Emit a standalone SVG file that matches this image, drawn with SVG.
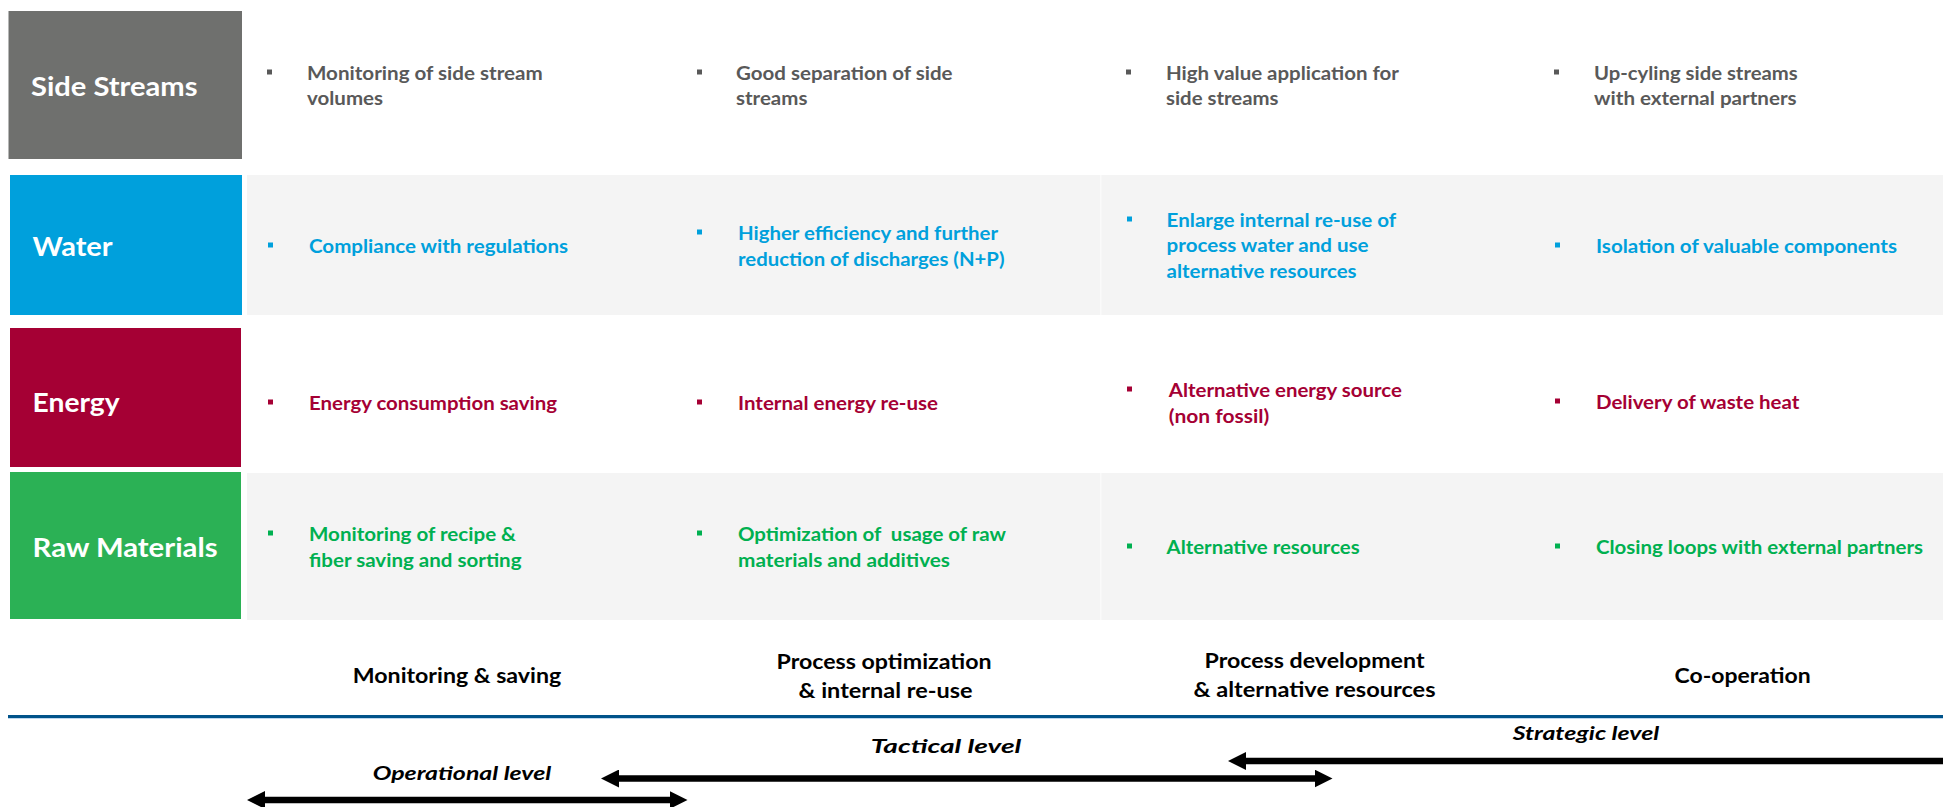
<svg xmlns="http://www.w3.org/2000/svg" width="1943" height="807" viewBox="0 0 1943 807">
<style>
text{font-family:Lato,"Open Sans","Liberation Sans",sans-serif;font-weight:700;white-space:pre}
.lab{font-size:27px;fill:#fff}
.b{font-size:19px}
.g{fill:#595959}.w{fill:#00A0DC}.e{fill:#A50034}.r{fill:#00B050}
.ax{font-size:20.5px;fill:#000;text-anchor:middle}
.it{font-size:19px;font-style:italic;fill:#000;text-anchor:middle}
.bg{fill:#F4F4F4}
.sep{fill:#FAFAFA}
.arr{stroke:#000;stroke-width:6.5;fill:none}
</style>
<defs>
<marker id="ah" viewBox="0 0 18 18" markerWidth="18" markerHeight="18" markerUnits="userSpaceOnUse" refX="6" refY="9" orient="auto-start-reverse"><path d="M0,0L18,9L0,18z" fill="#000"/></marker>
</defs>
<rect width="1943" height="807" fill="#fff"/>
<g id="row-backgrounds">
<rect class="bg" x="247" y="175" width="1696" height="140"/>
<rect class="sep" x="1100" y="175" width="1.5" height="140"/>
<rect class="bg" x="247" y="473" width="1696" height="147"/>
<rect class="sep" x="1100" y="473" width="1.5" height="147"/>
</g>
<g id="side-streams"><rect x="8.5" y="11" width="233.5" height="148" fill="#6F706E"/><text class="lab" x="31" y="96" textLength="166.5" lengthAdjust="spacingAndGlyphs">Side Streams</text></g>
<g id="water"><rect x="10" y="175" width="232" height="140" fill="#00A0DC"/><text class="lab" x="32.6" y="256" textLength="80" lengthAdjust="spacingAndGlyphs">Water</text></g>
<g id="energy"><rect x="10" y="328" width="231" height="139" fill="#A50034"/><text class="lab" x="32.6" y="412" textLength="87" lengthAdjust="spacingAndGlyphs">Energy</text></g>
<g id="raw-materials"><rect x="10" y="472" width="231" height="147" fill="#2BB155"/><text class="lab" x="32.6" y="557" textLength="185" lengthAdjust="spacingAndGlyphs">Raw Materials</text></g>

<g id="ss-1"><rect class="g" x="267" y="69.5" width="5" height="5"/><text class="b g" x="307" y="80" textLength="235.7" lengthAdjust="spacingAndGlyphs">Monitoring of side stream</text><text class="b g" x="307" y="105" textLength="76" lengthAdjust="spacingAndGlyphs">volumes</text></g>
<g id="ss-2"><rect class="g" x="697" y="69.5" width="5" height="5"/><text class="b g" x="736" y="80" textLength="216.5" lengthAdjust="spacingAndGlyphs">Good separation of side</text><text class="b g" x="736" y="105" textLength="71.4" lengthAdjust="spacingAndGlyphs">streams</text></g>
<g id="ss-3"><rect class="g" x="1126" y="69.5" width="5" height="5"/><text class="b g" x="1166" y="80" textLength="233" lengthAdjust="spacingAndGlyphs">High value application for</text><text class="b g" x="1166" y="105" textLength="112.5" lengthAdjust="spacingAndGlyphs">side streams</text></g>
<g id="ss-4"><rect class="g" x="1554" y="69.5" width="5" height="5"/><text class="b g" x="1594" y="80" textLength="203.7" lengthAdjust="spacingAndGlyphs">Up-cyling side streams</text><text class="b g" x="1594" y="105" textLength="202.6" lengthAdjust="spacingAndGlyphs">with external partners</text></g>

<g id="w-1"><rect class="w" x="268" y="242.5" width="5" height="5"/><text class="b w" x="309" y="253" textLength="259" lengthAdjust="spacingAndGlyphs">Compliance with regulations</text></g>
<g id="w-2"><rect class="w" x="697" y="229.5" width="5" height="5"/><text class="b w" x="738" y="240" textLength="260" lengthAdjust="spacingAndGlyphs">Higher efficiency and further</text><text class="b w" x="738" y="266" textLength="266.5" lengthAdjust="spacingAndGlyphs">reduction of discharges (N+P)</text></g>
<g id="w-3"><rect class="w" x="1127" y="216.5" width="5" height="5"/><text class="b w" x="1166.6" y="227" textLength="229.5" lengthAdjust="spacingAndGlyphs">Enlarge internal re-use of</text><text class="b w" x="1166.6" y="252" textLength="202" lengthAdjust="spacingAndGlyphs">process water and use</text><text class="b w" x="1166.6" y="278" textLength="190" lengthAdjust="spacingAndGlyphs">alternative resources</text></g>
<g id="w-4"><rect class="w" x="1555" y="242.5" width="5" height="5"/><text class="b w" x="1596" y="253" textLength="301" lengthAdjust="spacingAndGlyphs">Isolation of valuable components</text></g>

<g id="e-1"><rect class="e" x="268" y="399.5" width="5" height="5"/><text class="b e" x="309" y="410" textLength="248" lengthAdjust="spacingAndGlyphs">Energy consumption saving</text></g>
<g id="e-2"><rect class="e" x="697" y="399.5" width="5" height="5"/><text class="b e" x="738" y="410" textLength="200" lengthAdjust="spacingAndGlyphs">Internal energy re-use</text></g>
<g id="e-3"><rect class="e" x="1127" y="386.5" width="5" height="5"/><text class="b e" x="1168.8" y="397" textLength="233" lengthAdjust="spacingAndGlyphs">Alternative energy source</text><text class="b e" x="1168.8" y="423" textLength="100.5" lengthAdjust="spacingAndGlyphs">(non fossil)</text></g>
<g id="e-4"><rect class="e" x="1555" y="398.5" width="5" height="5"/><text class="b e" x="1596" y="409" textLength="203.4" lengthAdjust="spacingAndGlyphs">Delivery of waste heat</text></g>

<g id="r-1"><rect class="r" x="268" y="530.5" width="5" height="5"/><text class="b r" x="309" y="541" textLength="207" lengthAdjust="spacingAndGlyphs">Monitoring of recipe &amp;</text><text class="b r" x="309" y="567" textLength="212.5" lengthAdjust="spacingAndGlyphs">fiber saving and sorting</text></g>
<g id="r-2"><rect class="r" x="697" y="530.5" width="5" height="5"/><text class="b r" x="738" y="541" textLength="268" lengthAdjust="spacingAndGlyphs">Optimization of  usage of raw</text><text class="b r" x="738" y="567" textLength="212" lengthAdjust="spacingAndGlyphs">materials and additives</text></g>
<g id="r-3"><rect class="r" x="1127" y="543.5" width="5" height="5"/><text class="b r" x="1166.6" y="554" textLength="193" lengthAdjust="spacingAndGlyphs">Alternative resources</text></g>
<g id="r-4"><rect class="r" x="1555" y="543.5" width="5" height="5"/><text class="b r" x="1596" y="554" textLength="327" lengthAdjust="spacingAndGlyphs">Closing loops with external partners</text></g>

<g id="phase-1"><text class="ax" x="457" y="683" textLength="208.5" lengthAdjust="spacingAndGlyphs">Monitoring &amp; saving</text></g>
<g id="phase-2"><text class="ax" x="884" y="669" textLength="215" lengthAdjust="spacingAndGlyphs">Process optimization</text><text class="ax" x="885.5" y="698" textLength="174" lengthAdjust="spacingAndGlyphs">&amp; internal re-use</text></g>
<g id="phase-3"><text class="ax" x="1314.5" y="668" textLength="220" lengthAdjust="spacingAndGlyphs">Process development</text><text class="ax" x="1314.5" y="697" textLength="242" lengthAdjust="spacingAndGlyphs">&amp; alternative resources</text></g>
<g id="phase-4"><text class="ax" x="1742.6" y="683" textLength="136" lengthAdjust="spacingAndGlyphs">Co-operation</text></g>

<g id="axis-line"><rect x="8" y="715" width="1935" height="3" fill="#00538A"/><rect x="8" y="718" width="1935" height="1" fill="#BDD7EE"/></g>

<g id="level-strategic"><text class="it" x="1586" y="740" textLength="146.6" lengthAdjust="spacingAndGlyphs">Strategic level</text></g>
<g id="level-tactical"><text class="it" x="946" y="753" textLength="150.5" lengthAdjust="spacingAndGlyphs">Tactical level</text></g>
<g id="level-operational"><text class="it" x="462" y="780" textLength="178.6" lengthAdjust="spacingAndGlyphs">Operational level</text></g>

<g id="connectors">
<line class="arr" x1="1240" y1="761" x2="1950" y2="761" marker-start="url(#ah)"/>
<line class="arr" x1="613" y1="778.5" x2="1320.5" y2="778.5" marker-start="url(#ah)" marker-end="url(#ah)"/>
<line class="arr" x1="259" y1="800" x2="675.5" y2="800" marker-start="url(#ah)" marker-end="url(#ah)"/>
</g>
</svg>
